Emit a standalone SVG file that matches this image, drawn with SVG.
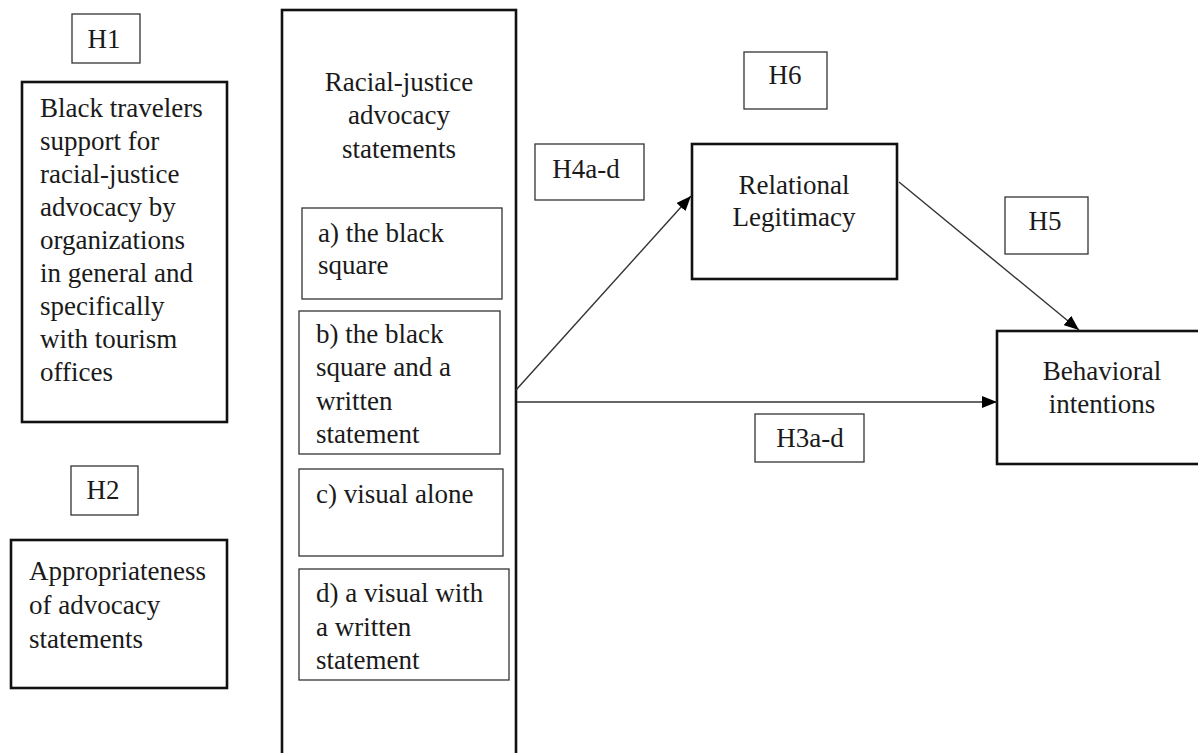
<svg xmlns="http://www.w3.org/2000/svg" width="1198" height="753" viewBox="0 0 1198 753">
<style>
text{font-family:"Liberation Serif","Times New Roman",serif;font-size:27px;fill:#1a1a1a}
.c{text-anchor:middle}
.thick{fill:#fff;stroke:#111;stroke-width:2.6}
.thin{fill:#fff;stroke:#333;stroke-width:1.3}
.conn{stroke:#333;stroke-width:1.4;fill:none}
</style>
<defs>
<marker id="ah" markerUnits="userSpaceOnUse" markerWidth="16" markerHeight="12" refX="15" refY="6" orient="auto">
<path d="M0,0 L15,6 L0,12 Z" fill="#000"/>
</marker>
</defs>
<rect width="1198" height="753" fill="#fff"/>
<g id="h1"><rect class="thin" x="72" y="14" width="68" height="49"/><text class="c" x="104" y="48">H1</text></g>
<g id="support"><rect class="thick" x="22" y="82" width="205" height="340"/>
<text x="40" y="117">Black travelers</text>
<text x="40" y="150">support for</text>
<text x="40" y="183">racial-justice</text>
<text x="40" y="216">advocacy by</text>
<text x="40" y="249">organizations</text>
<text x="40" y="282">in general and</text>
<text x="40" y="315">specifically</text>
<text x="40" y="348">with tourism</text>
<text x="40" y="381">offices</text>
</g>
<g id="h2"><rect class="thin" x="71" y="466" width="67" height="49"/><text class="c" x="103" y="499">H2</text></g>
<g id="appropriateness"><rect class="thick" x="11" y="540" width="216" height="148"/>
<text x="29" y="580">Appropriateness</text>
<text x="29" y="614">of advocacy</text>
<text x="29" y="648">statements</text>
</g>
<g id="statements"><rect class="thick" x="282" y="10" width="234" height="760"/>
<text class="c" x="399" y="91">Racial-justice</text>
<text class="c" x="399" y="124">advocacy</text>
<text class="c" x="399" y="158">statements</text>
</g>
<g id="opt-a"><rect class="thin" x="302" y="208" width="200" height="91"/>
<text x="318" y="242">a) the black</text><text x="318" y="274">square</text></g>
<g id="opt-b"><rect class="thin" x="299" y="311" width="201" height="143"/>
<text x="316" y="343">b) the black</text><text x="316" y="376">square and a</text><text x="316" y="410">written</text><text x="316" y="443">statement</text></g>
<g id="opt-c"><rect class="thin" x="299" y="469" width="204" height="87"/>
<text x="316" y="503">c) visual alone</text></g>
<g id="opt-d"><rect class="thin" x="299" y="569" width="210" height="111"/>
<text x="316" y="602">d) a visual with</text><text x="316" y="636">a written</text><text x="316" y="669">statement</text></g>
<g id="h6"><rect class="thin" x="744" y="52" width="83" height="57"/><text class="c" x="785" y="84">H6</text></g>
<g id="h4"><rect class="thin" x="535" y="144" width="109" height="56"/><text class="c" x="586" y="178">H4a-d</text></g>
<g id="relational"><rect class="thick" x="692" y="144" width="205" height="135"/>
<text class="c" x="794" y="194">Relational</text><text class="c" x="794" y="226">Legitimacy</text></g>
<g id="h5"><rect class="thin" x="1005" y="197" width="83" height="57"/><text class="c" x="1045" y="230">H5</text></g>
<g id="behavioral"><rect class="thick" x="997" y="331" width="215" height="133"/>
<text class="c" x="1102" y="380">Behavioral</text><text class="c" x="1102" y="413">intentions</text></g>
<g id="h3"><rect class="thin" x="755" y="414" width="109" height="48"/><text class="c" x="810" y="447">H3a-d</text></g>
<g id="connectors">
<line class="conn" x1="516" y1="390" x2="691" y2="196" marker-end="url(#ah)"/>
<line class="conn" x1="517" y1="402" x2="997" y2="402" marker-end="url(#ah)"/>
<line class="conn" x1="899" y1="182" x2="1079" y2="330" marker-end="url(#ah)"/>
</g>
</svg>
